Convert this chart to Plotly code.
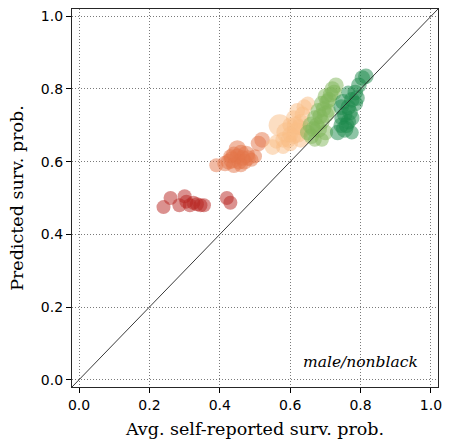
import plotly.graph_objects as go

# Group-level points: average self-reported survival probability (x),
# predicted survival probability (y) and group weight (marker area)
red_x = [0.24, 0.26, 0.285, 0.30, 0.305, 0.315, 0.325, 0.335, 0.345, 0.355, 0.42, 0.43]
red_y = [0.475, 0.50, 0.48, 0.505, 0.49, 0.48, 0.487, 0.483, 0.48, 0.48, 0.50, 0.487]
red_w = [3, 1, 3, 1, 2, 3, 2, 2, 3, 2, 1, 1]

orange_x = [0.39, 0.415, 0.425, 0.435, 0.44, 0.45, 0.45, 0.455, 0.46, 0.465, 0.47, 0.475,
            0.48, 0.44, 0.46, 0.50, 0.51, 0.52, 0.43, 0.49]
orange_y = [0.59, 0.595, 0.60, 0.605, 0.62, 0.615, 0.635, 0.60, 0.625, 0.61, 0.60, 0.62,
            0.61, 0.59, 0.59, 0.615, 0.65, 0.66, 0.615, 0.605]
orange_w = [2, 4, 4, 5, 4, 4, 5, 4, 4, 4, 4, 5, 4, 4, 2, 2, 4, 4, 2, 2]

peach_x = [0.55, 0.57, 0.58, 0.59, 0.60, 0.60, 0.61, 0.62, 0.62, 0.63, 0.63, 0.64, 0.65,
           0.64, 0.61, 0.58, 0.56, 0.595, 0.615, 0.635, 0.625, 0.60]
peach_y = [0.64, 0.70, 0.66, 0.68, 0.65, 0.70, 0.72, 0.68, 0.74, 0.66, 0.71, 0.75, 0.76,
           0.69, 0.67, 0.64, 0.655, 0.66, 0.70, 0.73, 0.695, 0.675]
peach_w = [4, 8, 4, 7, 4, 4, 4, 7, 4, 4, 4, 4, 2, 4, 4, 2, 2, 4, 5, 4, 4, 4]

green_x = [0.65, 0.66, 0.66, 0.67, 0.68, 0.68, 0.69, 0.69, 0.70, 0.70, 0.71, 0.72, 0.73,
           0.67, 0.70, 0.71, 0.69, 0.675, 0.685, 0.695, 0.705, 0.715, 0.725, 0.665]
green_y = [0.68, 0.70, 0.67, 0.72, 0.69, 0.74, 0.76, 0.71, 0.73, 0.78, 0.77, 0.80, 0.81,
           0.66, 0.68, 0.74, 0.66, 0.70, 0.725, 0.745, 0.765, 0.785, 0.79, 0.69]
green_w = [4, 5, 4, 4, 5, 4, 4, 4, 5, 4, 4, 4, 4, 2, 4, 2, 2, 4, 4, 4, 4, 4, 4, 4]

dkgreen_x = [0.735, 0.745, 0.755, 0.765, 0.755, 0.765, 0.775, 0.745, 0.775, 0.785, 0.795,
             0.805, 0.815, 0.765, 0.785, 0.745, 0.775, 0.76, 0.79, 0.75, 0.77]
dkgreen_y = [0.68, 0.70, 0.69, 0.71, 0.73, 0.75, 0.72, 0.75, 0.77, 0.79, 0.81, 0.83, 0.835,
             0.79, 0.76, 0.72, 0.68, 0.70, 0.775, 0.765, 0.735]
dkgreen_w = [4, 4, 5, 4, 4, 4, 4, 4, 4, 4, 4, 4, 4, 2, 4, 2, 2, 4, 4, 4, 4]

groups = [
    (red_x, red_y, red_w, "#b8231f"),
    (orange_x, orange_y, orange_w, "#e3764a"),
    (peach_x, peach_y, peach_w, "#f9bd85"),
    (green_x, green_y, green_w, "#7fb55a"),
    (dkgreen_x, dkgreen_y, dkgreen_w, "#1b8a4c"),
]

x_ticks = [0.0, 0.2, 0.4, 0.6, 0.8, 1.0]
y_ticks = [0.0, 0.2, 0.4, 0.6, 0.8, 1.0]
axis_range = [-0.02, 1.02]

fig = go.Figure()

for xs, ys, ws, color in groups:
    fig.add_trace(go.Scatter(
        x=xs, y=ys, mode="markers",
        marker=dict(
            size=ws, sizemode="area", sizeref=2.0 * 8 / (22 ** 2), sizemin=7,
            color=color, opacity=0.5, line=dict(width=0),
        ),
        showlegend=False, hoverinfo="skip",
    ))

# identity line across the axes
fig.add_trace(go.Scatter(
    x=axis_range, y=axis_range, mode="lines",
    line=dict(color="#222222", width=0.9),
    showlegend=False, hoverinfo="skip",
))

fig.add_annotation(
    x=0.968, y=0.05, xref="x", yref="y", xanchor="right", yanchor="middle",
    text="<i>male/nonblack</i>", showarrow=False,
    font=dict(family="DejaVu Serif", size=15.5, color="black"),
)

axis_common = dict(
    range=axis_range, showline=True, linecolor="#262626", linewidth=1.2, mirror=True,
    showgrid=True, gridcolor="#7a7a7a", gridwidth=0.8, griddash="1px,2px",
    zeroline=False, ticks="outside", ticklen=5, tickwidth=1, tickcolor="black",
    tickfont=dict(family="DejaVu Sans", size=14, color="black"),
    tickformat=".1f",
)

fig.update_xaxes(
    **axis_common, tickvals=x_ticks,
    title=dict(text="Avg. self-reported surv. prob.", standoff=10,
               font=dict(family="DejaVu Serif", size=17.5, color="black")),
)
fig.update_yaxes(
    **axis_common, tickvals=y_ticks,
    title=dict(text="Predicted surv. prob.", standoff=12,
               font=dict(family="DejaVu Serif", size=17.5, color="black")),
)

fig.update_layout(
    width=449, height=442,
    margin=dict(l=72, r=7, t=9, b=54),
    paper_bgcolor="white", plot_bgcolor="white",
)

fig.write_html("out.html")
